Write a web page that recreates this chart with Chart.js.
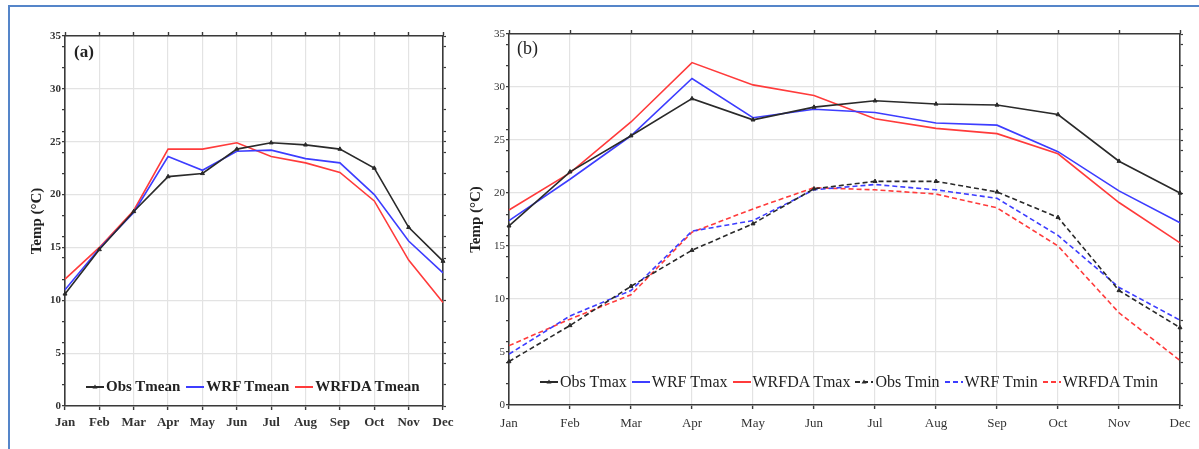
<!DOCTYPE html>
<html>
<head>
<meta charset="utf-8">
<script src="https://cdn.jsdelivr.net/npm/chart.js@4.4.1/dist/chart.umd.min.js"></script>
<style>
html,body{margin:0;padding:0;background:#fff;}
body{width:1199px;height:449px;position:relative;overflow:hidden;font-family:"Liberation Serif","Times New Roman",serif;color:#222;}
#ca{position:absolute;left:0;top:0;}
#cb{position:absolute;left:460px;top:0;}
.frameTop{position:absolute;left:8px;top:5px;width:1191px;height:2px;background:#5585c9;}
.frameLeft{position:absolute;left:8px;top:5px;width:2px;height:444px;background:#5585c9;}
.plabel{position:absolute;line-height:1;white-space:nowrap;}
.legend{position:absolute;display:flex;align-items:center;white-space:nowrap;line-height:1;}
.item{display:flex;align-items:center;}
.item svg{display:block;}
</style>
</head>
<body>
<canvas id="ca" width="460" height="449"></canvas>
<canvas id="cb" width="739" height="449"></canvas>
<div class="frameTop"></div>
<div class="frameLeft"></div>
<div class="plabel" style="left:74px;top:43px;font-size:17px;font-weight:bold;">(a)</div>
<div class="plabel" style="left:517px;top:39px;font-size:18px;">(b)</div>
<div id="lega" class="legend" style="left:86px;top:379px;font-size:15px;font-weight:bold;"></div>
<div id="legb" class="legend" style="left:540px;top:374px;font-size:16px;"></div>
<script>
// ---------- data ----------
const months = ['Jan','Feb','Mar','Apr','May','Jun','Jul','Aug','Sep','Oct','Nov','Dec'];
const yTicks = [0,5,10,15,20,25,30,35];
const yTitle = 'Temp (\u00B0C)';

// panel (a)
const obsTmean   = [10.6,14.8,18.4,21.7,22.0,24.3,24.9,24.7,24.3,22.5,16.9,13.7];
const wrfTmean   = [11.0,14.9,18.3,23.6,22.3,24.1,24.2,23.4,23.0,20.0,15.6,12.6];
const wrfdaTmean = [12.0,15.0,18.5,24.3,24.3,24.9,23.6,23.0,22.1,19.4,13.8,9.8];

// panel (b)
const obsTmax   = [16.9,22.0,25.4,28.9,26.9,28.1,28.7,28.4,28.3,27.4,23.0,20.0];
const wrfTmax   = [17.4,21.3,25.4,30.8,27.1,27.9,27.6,26.6,26.4,23.9,20.2,17.2];
const wrfdaTmax = [18.4,21.9,26.7,32.3,30.2,29.2,27.0,26.1,25.6,23.7,19.1,15.3];
const obsTmin   = [4.1,7.5,11.2,14.6,17.1,20.4,21.1,21.1,20.1,17.7,10.8,7.3];
const wrfTmin   = [4.8,8.4,10.8,16.4,17.4,20.3,20.8,20.3,19.5,16.0,11.1,8.0];
const wrfdaTmin = [5.6,8.1,10.4,16.3,18.5,20.5,20.3,19.9,18.6,15.0,8.7,4.2];

// ---------- styles ----------
const BLACK = '#2a2a2a', BLUE = '#3d3dff', RED = '#ff3b3b';
const AXIS = '#3a3a3a', GRID = '#e3e3e3', TRANSP = 'rgba(0,0,0,0)';
const DASH = [5,3];

function ds(label, data, color, obs, dashed){
  return {label, data, borderColor:color, backgroundColor:color, borderWidth:1.6,
    borderDash: dashed ? DASH : [], tension:0, fill:false,
    pointStyle:'triangle', pointRadius: obs ? 2.3 : 0, pointBorderWidth:1, pointHoverRadius:0,
    _obs: obs, _dashed: dashed};
}

function buildOptions(g){
  const isMajor = v => yTicks.includes(v);
  const tickShown = v => isMajor(v) || v % 2 === 0;
  return {
    responsive:false, animation:false, events:[],
    layout:{padding:{left:g.padLeft, right:0, top:0, bottom:0}},
    plugins:{legend:{display:false}, tooltip:{enabled:false}},
    scales:{
      x:{type:'category', labels:months, offset:false, position:'bottom',
        afterFit:s=>{s.height = g.bottomH;},
        border:{color:AXIS, width:1.6},
        grid:{color:GRID, lineWidth:1.2, tickColor:AXIS, tickLength:4, tickWidth:1.4},
        ticks:{autoSkip:false, maxRotation:0, padding:g.xPad, color:'#333', font:g.xFont}},
      x2:{type:'category', labels:months, offset:false, position:'top',
        afterFit:s=>{s.height = g.topH;},
        border:{color:AXIS, width:1.6},
        grid:{drawOnChartArea:false, tickColor:AXIS, tickLength:4, tickWidth:1.4},
        ticks:{display:false}},
      y:{type:'linear', min:0, max:35, position:'left',
        afterFit:s=>{s.width = g.leftW;},
        border:{color:AXIS, width:1.6},
        grid:{color:c=> (c.tick && isMajor(c.tick.value)) ? GRID : TRANSP, lineWidth:1.2,
              tickColor:c=> (c.tick && tickShown(c.tick.value)) ? AXIS : TRANSP, tickLength:3, tickWidth:1.2},
        ticks:{stepSize:1, autoSkip:false, maxTicksLimit:100, padding:1, color:'#333', font:g.yFont,
               callback:v=> isMajor(v) ? String(v) : ''},
        title:{display:true, text:yTitle, padding:0, color:'#222',
               font:{family:'Liberation Serif', size:15, weight:'bold'}}},
      y2:{type:'linear', min:0, max:35, position:'right',
        afterFit:s=>{s.width = g.rightW;},
        border:{color:AXIS, width:1.6},
        grid:{drawOnChartArea:false, tickColor:c=> (c.tick && tickShown(c.tick.value)) ? AXIS : TRANSP, tickLength:3, tickWidth:1.2},
        ticks:{display:false, stepSize:1, autoSkip:false, maxTicksLimit:100}}
    }
  };
}

const dsA = [
  ds('Obs Tmean', obsTmean, BLACK, true, false),
  ds('WRF Tmean', wrfTmean, BLUE, false, false),
  ds('WRFDA Tmean', wrfdaTmean, RED, false, false)
];
const dsB = [
  ds('Obs Tmax', obsTmax, BLACK, true, false),
  ds('WRF Tmax', wrfTmax, BLUE, false, false),
  ds('WRFDA Tmax', wrfdaTmax, RED, false, false),
  ds('Obs Tmin', obsTmin, BLACK, true, true),
  ds('WRF Tmin', wrfTmin, BLUE, false, true),
  ds('WRFDA Tmin', wrfdaTmin, RED, false, true)
];

new Chart(document.getElementById('ca'), {
  type:'line',
  data:{labels:months, datasets:dsA},
  options:buildOptions({padLeft:28, leftW:37, rightW:17, topH:36, bottomH:43, xPad:5,
    xFont:{family:'Liberation Serif', size:13, weight:'bold'},
    yFont:{family:'Liberation Serif', size:11, weight:'bold'}})
});

new Chart(document.getElementById('cb'), {
  type:'line',
  data:{labels:months, datasets:dsB},
  options:buildOptions({padLeft:7, leftW:42, rightW:19, topH:34, bottomH:44, xPad:7,
    xFont:{family:'Liberation Serif', size:13},
    yFont:{family:'Liberation Serif', size:11}})
});

// ---------- HTML legends ----------
function buildLegend(id, sets, gap){
  const el = document.getElementById(id);
  sets.forEach((d, i) => {
    const it = document.createElement('div');
    it.className = 'item';
    if (i > 0) it.style.marginLeft = gap + 'px';
    const ns = 'http://www.w3.org/2000/svg';
    const svg = document.createElementNS(ns, 'svg');
    svg.setAttribute('width', '18'); svg.setAttribute('height', '8');
    svg.style.marginRight = '2px';
    const ln = document.createElementNS(ns, 'line');
    ln.setAttribute('x1', '0'); ln.setAttribute('x2', '18');
    ln.setAttribute('y1', '4'); ln.setAttribute('y2', '4');
    ln.setAttribute('stroke', d.borderColor); ln.setAttribute('stroke-width', '2');
    if (d._dashed) ln.setAttribute('stroke-dasharray', '5,3');
    svg.appendChild(ln);
    if (d._obs) {
      const tr = document.createElementNS(ns, 'polygon');
      tr.setAttribute('points', '9,1.5 11.5,5.5 6.5,5.5');
      tr.setAttribute('fill', d.borderColor);
      svg.appendChild(tr);
    }
    it.appendChild(svg);
    const t = document.createElement('span');
    t.textContent = d.label;
    it.appendChild(t);
    el.appendChild(it);
  });
}
buildLegend('lega', dsA, 6);
buildLegend('legb', dsB, 5);
</script>
</body>
</html>
